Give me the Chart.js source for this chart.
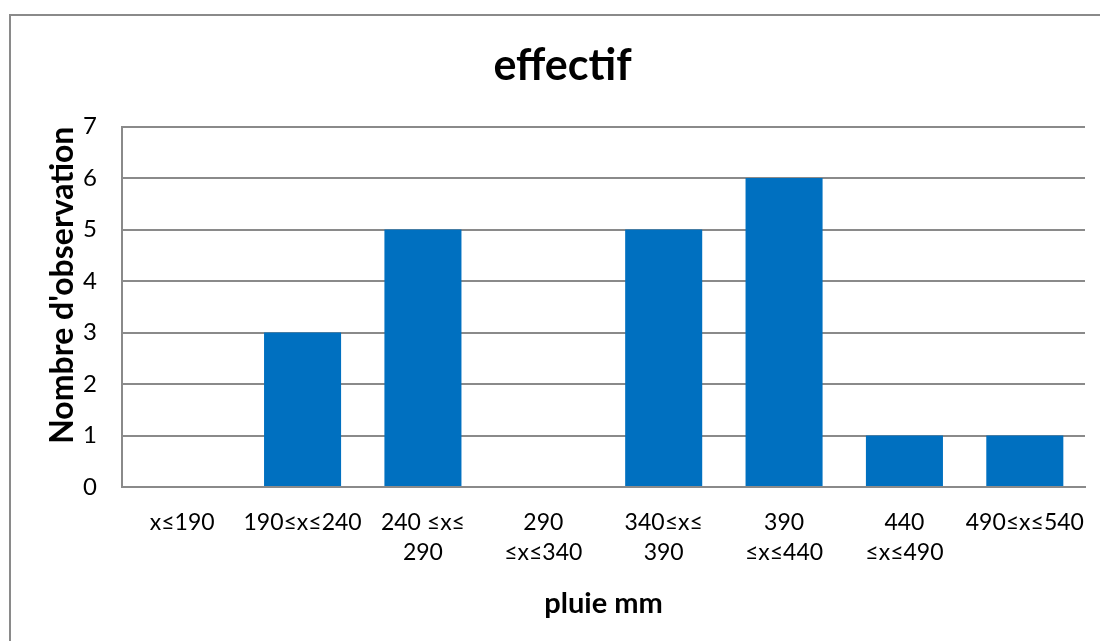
<!DOCTYPE html>
<html>
<head>
<meta charset="utf-8">
<script src="https://cdn.jsdelivr.net/npm/chart.js@4/dist/chart.umd.min.js"></script>
<style>
  html, body { margin: 0; padding: 0; background: #fff; }
  #wrap { position: absolute; left: 0; top: 0; width: 1100px; height: 641px; }
</style>
</head>
<body>
<div id="wrap"><canvas id="rainChart"></canvas></div>
<script>
// rainfall classes (mm) and how many observations fell in each
const classes = [
  "x≤190",
  "190≤x≤240",
  ["240 ≤x≤", "290"],
  ["290", "≤x≤340"],
  ["340≤x≤", "390"],
  ["390", "≤x≤440"],
  ["440", "≤x≤490"],
  "490≤x≤540"
];
const effectif = [0, 3, 5, 0, 5, 6, 1, 1];
const yTicks = [0, 1, 2, 3, 4, 5, 6, 7];

const FONT = "Lato, 'Open Sans', sans-serif";
const GRID = "#8a8a8a";

// outer frame of the chart area
const frame = {
  id: "frame",
  beforeDraw(chart) {
    const ctx = chart.ctx;
    ctx.save();
    ctx.fillStyle = "#fff";
    ctx.fillRect(0, 0, chart.width, chart.height);
    ctx.strokeStyle = GRID;
    ctx.lineWidth = 2;
    ctx.strokeRect(10, 15, chart.width + 10, chart.height + 10);
    ctx.restore();
  }
};

new Chart(document.getElementById("rainChart"), {
  type: "bar",
  data: {
    labels: classes,
    datasets: [{
      label: "effectif",
      data: effectif,
      backgroundColor: "#0070C0",
      barPercentage: 0.64,
      categoryPercentage: 1
    }]
  },
  options: {
    responsive: true,
    maintainAspectRatio: false,
    animation: false,
    layout: { padding: { left: 40, top: 40, right: 15, bottom: 20 } },
    plugins: {
      legend: { display: false },
      tooltip: { enabled: false },
      title: {
        display: true,
        text: "effectif",
        color: "#000",
        font: { family: FONT, size: 43, weight: "bold" },
        padding: { top: 0, bottom: 35 }
      }
    },
    scales: {
      x: {
        afterFit(axis) {
          axis.height = 134;
          axis.paddingLeft = 0;
          axis.paddingRight = 0;
        },
        grid: { display: false, drawTicks: false },
        border: { display: true, color: GRID, width: 2 },
        ticks: {
          color: "#000",
          font: { family: FONT, size: 23, lineHeight: 1.3 },
          maxRotation: 0,
          autoSkip: false,
          padding: 21
        },
        title: {
          display: true,
          text: "pluie mm",
          color: "#000",
          font: { family: FONT, size: 29, weight: "bold" },
          padding: { top: 18, bottom: 0 }
        }
      },
      y: {
        min: 0,
        max: 7,
        afterBuildTicks(axis) {
          axis.ticks = yTicks.map(v => ({ value: v }));
        },
        afterFit(axis) {
          axis.width = 82;
        },
        grid: { color: GRID, lineWidth: 2, drawTicks: false },
        border: { display: true, color: GRID, width: 2 },
        ticks: {
          color: "#000",
          font: { family: FONT, size: 24 },
          padding: 25
        },
        title: {
          display: true,
          text: "Nombre d'observation",
          align: "end",
          color: "#000",
          font: { family: FONT, size: 32, weight: "bold" },
          padding: { top: 3, bottom: 3 }
        }
      }
    }
  },
  plugins: [frame]
});
</script>
</body>
</html>
